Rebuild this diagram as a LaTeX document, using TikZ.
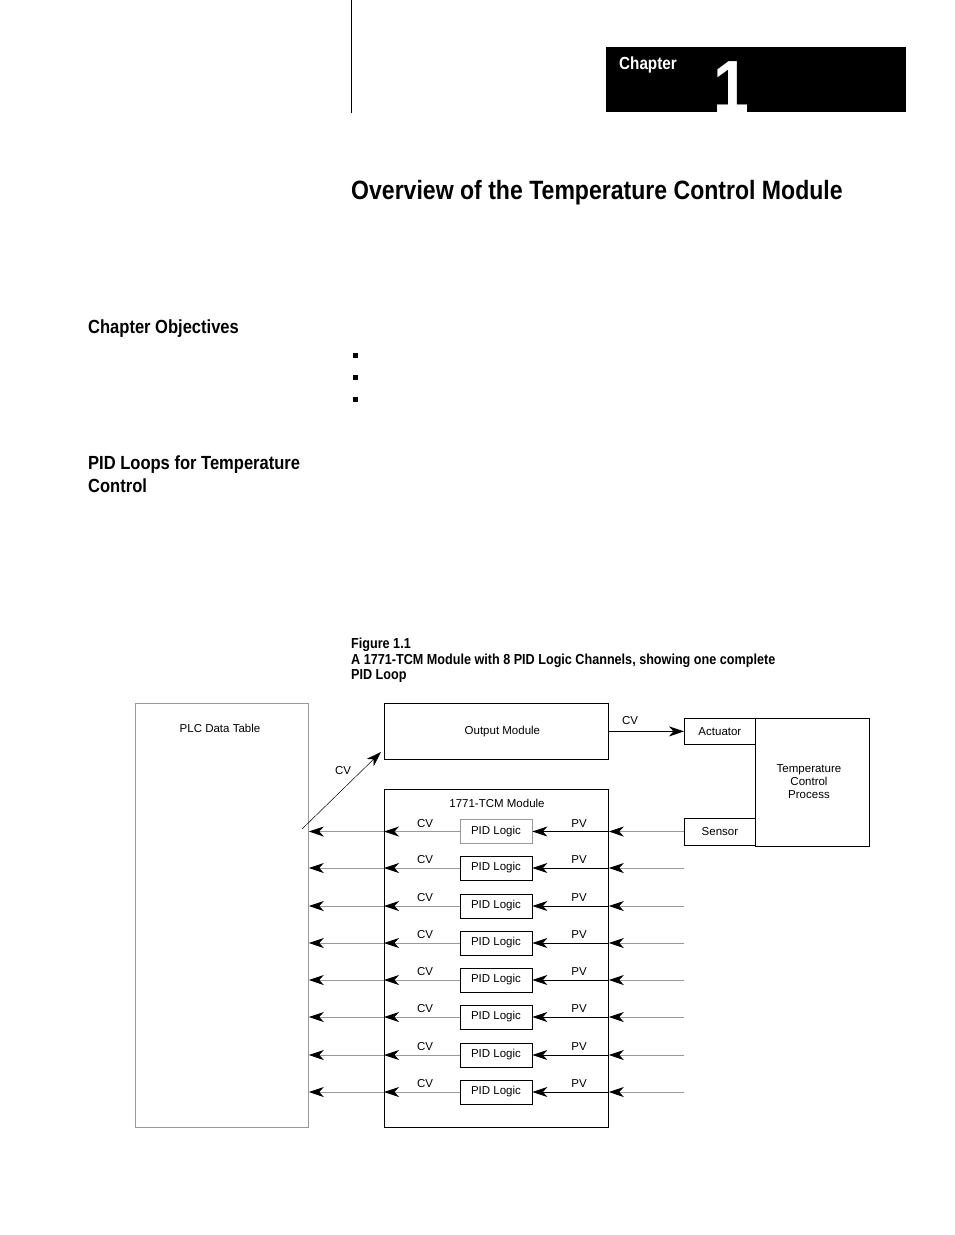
\documentclass[tikz,border=0pt]{standalone}
\usepackage{fontspec}
\setmainfont{Liberation Sans}
\newfontfamily\condfont[FakeStretch=0.87]{Liberation Sans}
\usetikzlibrary{arrows.meta}
\definecolor{linegray}{gray}{0.6}

\begin{document}
\begin{tikzpicture}[x=1pt,y=-1pt,
  box/.style={draw,line width=0.8pt,inner sep=0pt},
  txt/.style={inner sep=0pt,font=\fontsize{11.5}{13}\selectfont},
  pidbox/.style={box,txt,minimum width=72,minimum height=24},
  head/.style={inner sep=0pt,anchor=base west,font=\condfont\bfseries\fontsize{19}{23}\selectfont},
  capt/.style={inner sep=0pt,anchor=base west,font=\condfont\bfseries\fontsize{14.5}{15.5}\selectfont},
  arr/.style={-{Stealth[length=15pt,width=10pt,inset=4.5pt,color=black]},line width=0.8pt},
  greyarr/.style={arr,draw=linegray}]
\useasboundingbox (0,0) rectangle (954,1235);
% page header
\draw[line width=0.8pt] (351,0)--(351,113);
\fill (606,47) rectangle (906,112);
\node[inner sep=0pt,anchor=base west,text=white,font=\condfont\bfseries\fontsize{17.5}{19}\selectfont] (chap) at (619,69) {Chapter};
\node[inner sep=0pt,anchor=base,text=white,font=\condfont\bfseries\fontsize{74}{80}\selectfont] (chapno) at (731,112) {1};
\node[inner sep=0pt,anchor=base west,font=\condfont\bfseries\fontsize{26.5}{30}\selectfont] (title) at (351,199) {Overview of the Temperature Control Module};
\node[head] (objhead) at (88,333) {Chapter Objectives};
\foreach \i/\yy in {1/355,2/377,3/399}
  \node[fill,minimum size=5,inner sep=0pt] (bul\i) at (355,\yy) {};
\node[head] (pidhead) at (88,469) {PID Loops for Temperature};
\node[head] (pidhead2) at (88,492) {Control};
\node[capt] (cap1) at (351,648) {Figure 1.1};
\node[capt] (cap2) at (351,664) {A 1771-TCM Module with 8 PID Logic Channels, showing one complete};
\node[capt] (cap3) at (351,679) {PID Loop};

% figure 1.1
\node[box,draw=linegray,anchor=north west,minimum width=173,minimum height=424] (plc) at (135,703) {};
\node[txt] (plctxt) at (220,728) {PLC Data Table};
\node[box,txt,anchor=north west,minimum width=224,minimum height=56] (out) at (384,703) {\hspace*{12pt}Output Module};
\node[box,txt,anchor=north west,minimum width=71,minimum height=26] (act) at (684,718) {Actuator};
\node[box,anchor=north west,minimum width=114,minimum height=128] (proc) at (755,718) {};
\node[txt,align=center] (proctxt) at (809,782) {Temperature\\Control\\Process};
\node[box,txt,anchor=north west,minimum width=71,minimum height=27] (sens) at (684,818) {Sensor};
\node[box,anchor=north west,minimum width=224,minimum height=338] (tcm) at (384,789) {};
\node[txt] (tcmtxt) at (497,803) {1771-TCM Module};

\draw[arr] (out.east) -- (act.west);
\node[txt] (cvout) at (630,721) {CV};
\coordinate (cvfrom) at (302,829);
\coordinate (cvto) at (381,752);
\draw[arr,line width=0.5pt] (cvfrom) -- (cvto);
\node[txt] (cvdiag) at (343,771) {CV};

\foreach \i/\yy/\col in {1/831.5/linegray,2/868/black,3/906/black,4/943/black,5/980/black,6/1017/black,7/1055/black,8/1092/black}{
  \node[pidbox,draw=\col] (pid\i) at (496,\yy) {PID Logic};
  \coordinate (in\i) at (684,\yy);
  \draw[greyarr] (in\i) -- (in\i -| tcm.east);
  \draw[arr] (in\i -| tcm.east) -- (pid\i.east);
  \draw[greyarr] (pid\i.west) -- (pid\i -| tcm.west);
  \draw[greyarr] (pid\i -| tcm.west) -- (pid\i -| plc.east);
  \node[txt] (cv\i) at (425,\yy-8) {CV};
  \node[txt] (pv\i) at (579,\yy-8) {PV};
}
\end{tikzpicture}
\end{document}
